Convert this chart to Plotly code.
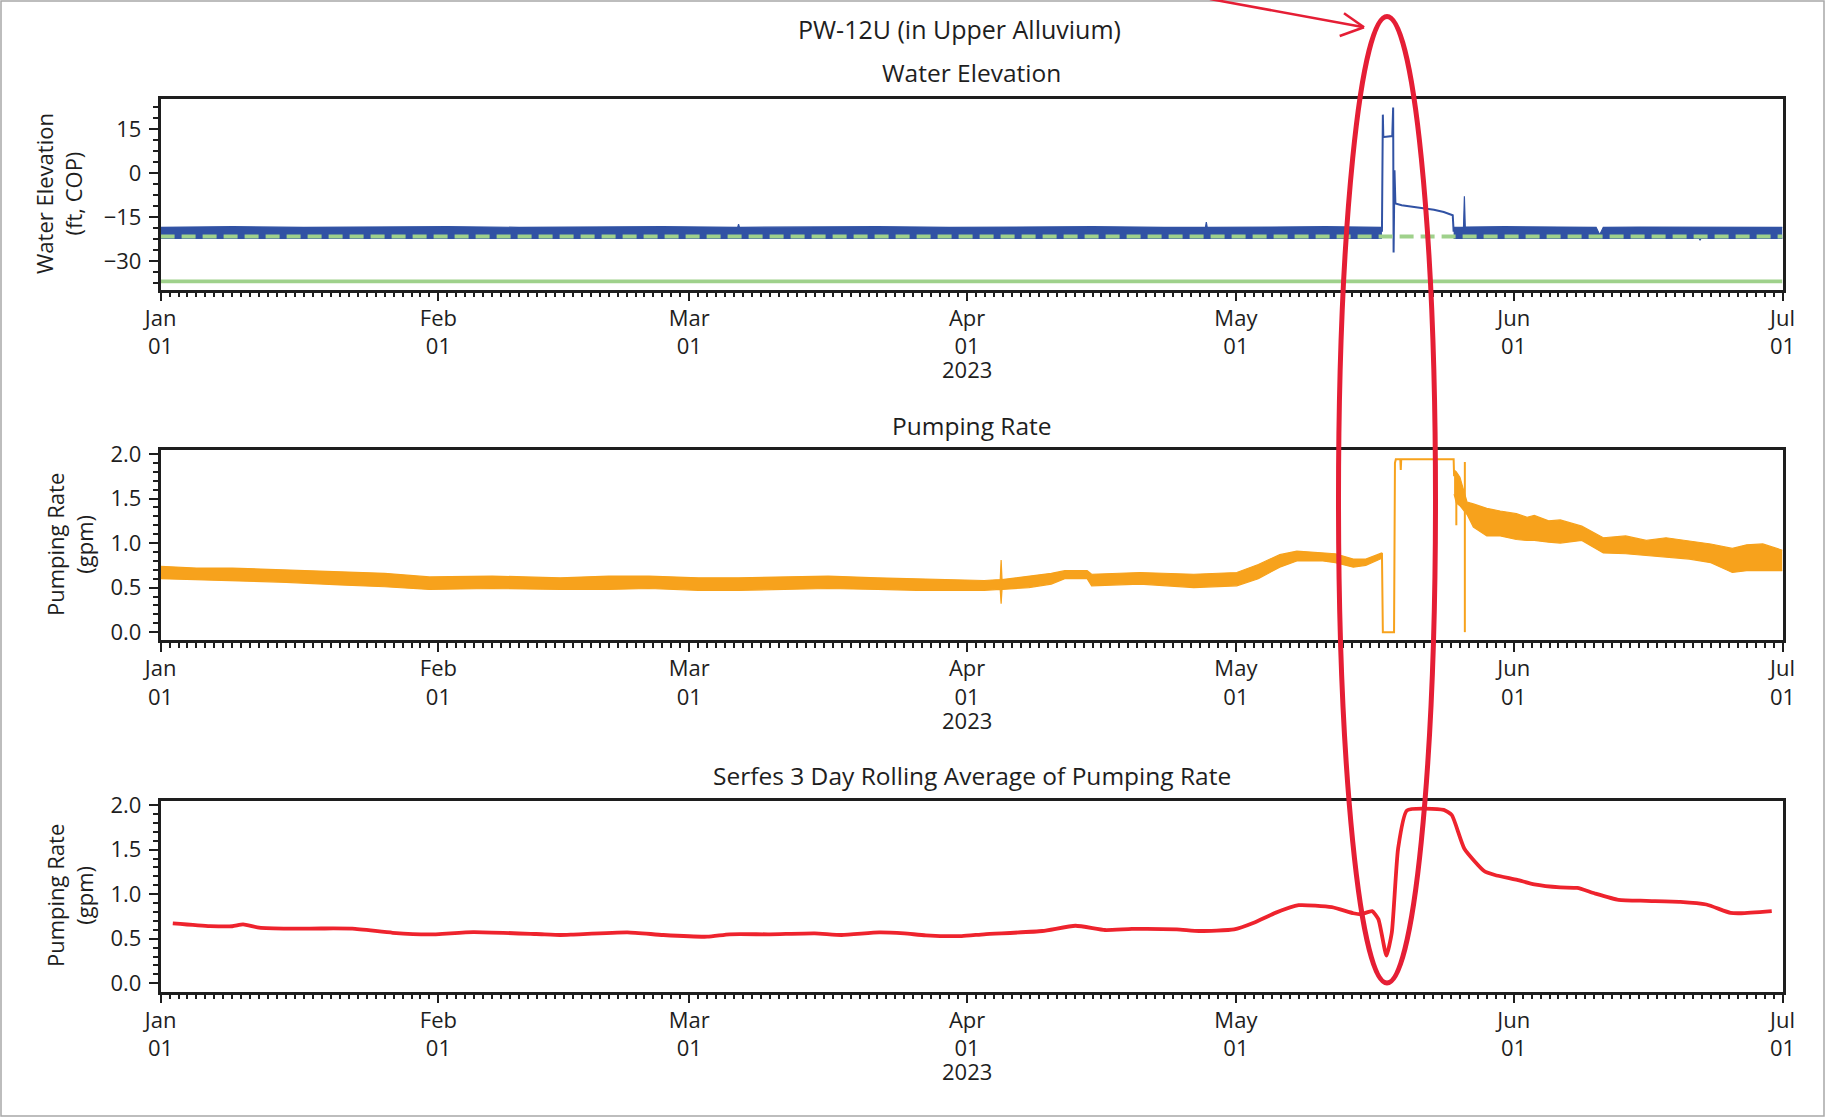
import pandas as pd
import plotly.graph_objects as go

# ---------------- data (days after 2023-01-01) ----------------
START = pd.Timestamp("2023-01-01")

# Water elevation: envelope of the dense blue record before the event
WE_PRE_DAYS = [0.0, 8.0, 16.0, 24.0, 32.0, 40.0, 48.0, 56.0, 64.4, 64.5, 64.6, 72.0, 80.0, 88.0,
               96.0, 104.0, 112.0, 116.6, 116.7, 116.8, 124.0, 130.0, 136.3]
WE_PRE_UPPER = [-18.5, -18.3, -18.5, -18.4, -18.3, -18.5, -18.4, -18.3, -18.5, -17.4, -18.5, -18.4, -18.3,
                -18.5, -18.4, -18.3, -18.5, -18.5, -16.7, -18.5, -18.4, -18.3, -18.5]
WE_PRE_LOWER = [-22.3, -22.2, -22.3, -22.3, -22.2, -22.3, -22.3, -22.2, -22.3, -22.3, -22.3, -22.3, -22.2,
                -22.3, -22.3, -22.2, -22.3, -22.3, -22.3, -22.3, -22.3, -22.2, -22.3]
# Water elevation during the test
WE_EVENT_DAYS = [136.3, 136.4, 136.45, 136.55, 137.45, 137.55, 137.6, 137.7, 137.8, 138.5, 139.8,
                 141.0, 142.1, 143.2, 144.2, 144.3]
WE_EVENT_VALUES = [-20.0, 19.9, 12.6, 12.3, 12.6, 22.3, -27.1, 0.9, -10.4, -11.0, -11.6,
                   -12.0, -12.5, -13.3, -14.4, -20.0]
# Water elevation envelope after the test
WE_POST_DAYS = [144.3, 145.4, 145.5, 145.6, 150.0, 155.0, 160.2, 160.6, 161.0, 165.0, 171.7, 171.8,
                171.9, 176.0, 181.0]
WE_POST_UPPER = [-18.5, -18.4, -7.9, -18.4, -18.3, -18.5, -18.5, -21.0, -18.5, -18.4, -18.5, -18.5,
                 -18.5, -18.4, -18.5]
WE_POST_LOWER = [-22.3, -22.3, -22.3, -22.3, -22.2, -22.3, -22.3, -22.4, -22.3, -22.3, -22.3, -22.9,
                 -22.3, -22.3, -22.3]
DASHED_LEVEL = -21.6
SOLID_LEVEL = -36.9

# Pumping rate envelope before the test
PR_PRE_DAYS = [0.0, 4.0, 8.0, 14.0, 20.0, 25.0, 30.0, 37.0, 44.6, 50.0, 54.5, 60.0, 64.5, 70.0, 74.5,
               80.0, 84.4, 91.9, 93.7, 93.8, 93.9, 96.9, 99.4, 100.9, 103.4, 103.9, 109.3, 115.3, 120.1,
               122.5, 124.9, 126.8, 129.7, 131.1, 133.1, 134.5, 136.3]
PR_PRE_UPPER = [0.74, 0.72, 0.72, 0.70, 0.68, 0.66, 0.62, 0.63, 0.61, 0.63, 0.63, 0.61, 0.61, 0.62, 0.63,
                0.61, 0.60, 0.58, 0.59, 0.81, 0.59, 0.63, 0.66, 0.69, 0.69, 0.65, 0.67, 0.65, 0.67,
                0.76, 0.87, 0.91, 0.89, 0.88, 0.82, 0.82, 0.89]
PR_PRE_LOWER = [0.60, 0.59, 0.58, 0.56, 0.53, 0.51, 0.48, 0.49, 0.48, 0.48, 0.49, 0.47, 0.47, 0.48, 0.49,
                0.48, 0.47, 0.47, 0.48, 0.32, 0.48, 0.50, 0.54, 0.60, 0.60, 0.52, 0.54, 0.50, 0.52,
                0.60, 0.73, 0.80, 0.80, 0.78, 0.73, 0.75, 0.83]
# Pumping rate during the test
PR_EVENT_DAYS = [136.3, 136.4, 137.65, 137.75, 137.85, 138.35, 138.4, 138.45, 144.3, 144.35]
PR_EVENT_VALUES = [0.89, 0.0, 0.0, 1.90, 1.94, 1.94, 1.82, 1.94, 1.94, 1.75]
# Isolated spikes (day, top, bottom)
PR_SPIKE_DAYS = [144.6, 145.55]
PR_SPIKE_TOP = [1.75, 1.91]
PR_SPIKE_BOTTOM = [1.20, 0.0]
# Pumping rate envelope after the test
PR_POST_DAYS = [144.35, 144.6, 145.0, 145.5, 145.8, 146.5, 148.0, 149.5, 151.3, 152.5, 153.3, 154.9,
                156.2, 158.6, 161.0, 163.5, 165.8, 168.0, 170.6, 173.0, 175.4, 177.0, 178.8, 181.0]
PR_POST_UPPER = [1.82, 1.80, 1.74, 1.55, 1.46, 1.44, 1.39, 1.36, 1.33, 1.29, 1.31, 1.25,
                 1.26, 1.19, 1.06, 1.08, 1.03, 1.06, 1.02, 0.99, 0.94, 0.98, 0.99, 0.92]
PR_POST_LOWER = [1.55, 1.45, 1.42, 1.36, 1.32, 1.18, 1.08, 1.08, 1.04, 1.03, 1.03, 1.01,
                 1.00, 1.03, 0.89, 0.88, 0.86, 0.84, 0.82, 0.78, 0.67, 0.69, 0.69, 0.69]

# Serfes 3-day rolling average
RA_DAYS = [1.36, 5.5, 8.0, 9.2, 11.0, 14.4, 17.9, 21.4, 25.9, 29.9, 34.9, 41.9, 44.6, 45.9, 52.1, 56.1,
           61.0, 63.5, 68.0, 73.0, 76.0, 80.2, 83.0, 85.4, 89.4, 91.9, 98.4, 102.1, 105.4, 108.4, 113.4,
           115.9, 119.8, 122.0, 124.4, 127.0, 130.7, 133.1, 134.0, 135.2, 135.9, 136.8, 137.4, 138.1,
           139.1, 143.2, 144.1, 145.5, 147.7, 148.9, 151.4, 153.3, 156.2, 158.1, 160.0, 162.7, 165.8,
           169.6, 172.5, 175.2, 176.4, 179.8]
RA_VALUES = [0.673, 0.642, 0.64, 0.661, 0.624, 0.613, 0.615, 0.613, 0.567, 0.548, 0.575, 0.553, 0.542,
             0.546, 0.572, 0.542, 0.523, 0.55, 0.55, 0.56, 0.542, 0.572, 0.56, 0.538, 0.53, 0.55, 0.587,
             0.646, 0.598, 0.61, 0.605, 0.587, 0.605, 0.68, 0.79, 0.876, 0.854, 0.786, 0.775, 0.81, 0.72,
             0.31, 0.57, 1.51, 1.94, 1.945, 1.886, 1.51, 1.26, 1.215, 1.16, 1.11, 1.076, 1.07, 1.01,
             0.936, 0.925, 0.914, 0.884, 0.79, 0.786, 0.81]

TICK_DATES = ["2023-01-01", "2023-02-01", "2023-03-01", "2023-04-01", "2023-05-01", "2023-06-01", "2023-07-01"]
TICK_TEXT = ["Jan<br>01", "Feb<br>01", "Mar<br>01", "Apr<br>01", "May<br>01", "Jun<br>01", "Jul<br>01"]
YEAR_LABEL = "2023"
YEAR_LABEL_DATE = "2023-04-01"
WE_TICKS = [-30, -15, 0, 15]
WE_TICK_TEXT = ["\u221230", "\u221215", "0", "15"]
PR_TICKS = [0.0, 0.5, 1.0, 1.5, 2.0]
PR_TICK_TEXT = ["0.0", "0.5", "1.0", "1.5", "2.0"]


def to_dates(days):
    return [START + pd.Timedelta(days=float(d)) for d in days]


# ---------------- styling ----------------
W, H = 1825, 1117
FONT = "Open Sans"
INK = "#1e1e1e"
BLUE = "#3152a4"
GREEN = "#9fd18b"
ORANGE = "#f7a21c"
RED = "#ee232d"
ELLIPSE_RED = "#e51e35"


def fx(px):
    return px / W


def fy(py):
    return 1 - py / H


fig = go.Figure()

# --- panel 1: water elevation ---
fig.add_trace(go.Scatter(x=to_dates(WE_PRE_DAYS), y=WE_PRE_LOWER, mode="lines",
                         line=dict(color=BLUE, width=1.2), xaxis="x", yaxis="y", showlegend=False))
fig.add_trace(go.Scatter(x=to_dates(WE_PRE_DAYS), y=WE_PRE_UPPER, mode="lines", fill="tonexty",
                         fillcolor=BLUE, line=dict(color=BLUE, width=1.2), xaxis="x", yaxis="y",
                         showlegend=False))
fig.add_trace(go.Scatter(x=to_dates(WE_POST_DAYS), y=WE_POST_LOWER, mode="lines",
                         line=dict(color=BLUE, width=1.2), xaxis="x", yaxis="y", showlegend=False))
fig.add_trace(go.Scatter(x=to_dates(WE_POST_DAYS), y=WE_POST_UPPER, mode="lines", fill="tonexty",
                         fillcolor=BLUE, line=dict(color=BLUE, width=1.2), xaxis="x", yaxis="y",
                         showlegend=False))
fig.add_trace(go.Scatter(x=to_dates(WE_EVENT_DAYS), y=WE_EVENT_VALUES, mode="lines",
                         line=dict(color=BLUE, width=2), xaxis="x", yaxis="y", showlegend=False))
fig.add_trace(go.Scatter(x=[START, pd.Timestamp("2023-07-01")], y=[DASHED_LEVEL, DASHED_LEVEL],
                         mode="lines", line=dict(color=GREEN, width=4, dash="14px,7px"),
                         xaxis="x", yaxis="y", showlegend=False))
fig.add_trace(go.Scatter(x=[START, pd.Timestamp("2023-07-01")], y=[SOLID_LEVEL, SOLID_LEVEL],
                         mode="lines", line=dict(color=GREEN, width=3.8),
                         xaxis="x", yaxis="y", showlegend=False))

# --- panel 2: pumping rate ---
fig.add_trace(go.Scatter(x=to_dates(PR_PRE_DAYS), y=PR_PRE_LOWER, mode="lines",
                         line=dict(color=ORANGE, width=1.2), xaxis="x2", yaxis="y2", showlegend=False))
fig.add_trace(go.Scatter(x=to_dates(PR_PRE_DAYS), y=PR_PRE_UPPER, mode="lines", fill="tonexty",
                         fillcolor=ORANGE, line=dict(color=ORANGE, width=1.2), xaxis="x2", yaxis="y2",
                         showlegend=False))
fig.add_trace(go.Scatter(x=to_dates(PR_POST_DAYS), y=PR_POST_LOWER, mode="lines",
                         line=dict(color=ORANGE, width=1.2), xaxis="x2", yaxis="y2", showlegend=False))
fig.add_trace(go.Scatter(x=to_dates(PR_POST_DAYS), y=PR_POST_UPPER, mode="lines", fill="tonexty",
                         fillcolor=ORANGE, line=dict(color=ORANGE, width=1.2), xaxis="x2", yaxis="y2",
                         showlegend=False))
fig.add_trace(go.Scatter(x=to_dates(PR_EVENT_DAYS), y=PR_EVENT_VALUES, mode="lines",
                         line=dict(color=ORANGE, width=2), xaxis="x2", yaxis="y2", showlegend=False))
spike_x, spike_y = [], []
for d, top, bot in zip(PR_SPIKE_DAYS, PR_SPIKE_TOP, PR_SPIKE_BOTTOM):
    t = START + pd.Timedelta(days=d)
    spike_x += [t, t, None]
    spike_y += [top, bot, None]
fig.add_trace(go.Scatter(x=spike_x, y=spike_y, mode="lines", line=dict(color=ORANGE, width=2),
                         xaxis="x2", yaxis="y2", showlegend=False, connectgaps=False))

# --- panel 3: rolling average ---
fig.add_trace(go.Scatter(x=to_dates(RA_DAYS), y=RA_VALUES, mode="lines",
                         line=dict(color=RED, width=3.8, shape="spline", smoothing=0.5),
                         xaxis="x3", yaxis="y3", showlegend=False))

# ---------------- axes ----------------
XDOM = [fx(160.6), fx(1782.5)]
panels = {  # (top px, bottom px)
    1: (98.5, 289.5),
    2: (450.0, 640.0),
    3: (801.0, 991.7),
}


def xaxis_style(anchor):
    return dict(
        type="date", range=["2023-01-01", "2023-07-01"], domain=XDOM, anchor=anchor,
        tickmode="array", tickvals=TICK_DATES, ticktext=TICK_TEXT,
        ticks="outside", ticklen=9, tickwidth=2, tickcolor=INK,
        showline=True, linecolor=INK, linewidth=2.5, mirror=True,
        showgrid=False, zeroline=False, automargin=False, ticklabelstandoff=-2,
        tickfont=dict(family=FONT, size=22, color=INK),
        minor=dict(ticks="outside", ticklen=5, tickwidth=1.5, tickcolor=INK,
                   tickmode="linear", tick0="2023-01-01", dtick=86400000, showgrid=False),
    )


def yaxis_style(anchor, top, bottom, rng, tv, tt, minor_dtick):
    return dict(
        domain=[fy(bottom), fy(top)], anchor=anchor, range=rng,
        tickmode="array", tickvals=tv, ticktext=tt,
        ticks="outside", ticklen=9, tickwidth=2, tickcolor=INK,
        showline=True, linecolor=INK, linewidth=2.5, mirror=True,
        showgrid=False, zeroline=False, automargin=False, ticklabelstandoff=3,
        tickfont=dict(family=FONT, size=22, color=INK),
        minor=dict(ticks="outside", ticklen=5, tickwidth=1.5, tickcolor=INK,
                   tickmode="linear", tick0=0, dtick=minor_dtick, showgrid=False),
    )


fig.update_layout(
    width=W, height=H,
    margin=dict(l=0, r=0, t=0, b=0),
    paper_bgcolor="white", plot_bgcolor="white",
    font=dict(family=FONT, size=22, color=INK),
    showlegend=False,
    xaxis=xaxis_style("y"),
    xaxis2=xaxis_style("y2"),
    xaxis3=xaxis_style("y3"),
    yaxis=yaxis_style("x", *panels[1], [-39.7, 25.4], WE_TICKS, WE_TICK_TEXT, 3.75),
    yaxis2=yaxis_style("x2", *panels[2], [-0.088, 2.045], PR_TICKS, PR_TICK_TEXT, 0.1),
    yaxis3=yaxis_style("x3", *panels[3], [-0.094, 2.045], PR_TICKS, PR_TICK_TEXT, 0.1),
)

# ---------------- text ----------------
ann = []
ann.append(dict(text="PW-12U (in Upper Alluvium)", x=fx(960), y=fy(29), xref="paper", yref="paper",
                showarrow=False, xanchor="center", yanchor="middle", font=dict(size=25)))
for title, ypx in [("Water Elevation", 73), ("Pumping Rate", 425),
                   ("Serfes 3 Day Rolling Average of Pumping Rate", 776)]:
    ann.append(dict(text=title, x=fx(971.5), y=fy(ypx), xref="paper", yref="paper", showarrow=False,
                    xanchor="center", yanchor="middle", font=dict(size=24.5)))
for title, xpx, ypx in [("Water Elevation<br>(ft, COP)", 58, 194),
                        ("Pumping Rate<br>(gpm)", 69, 545),
                        ("Pumping Rate<br>(gpm)", 69, 896)]:
    ann.append(dict(text=title, x=fx(xpx), y=fy(ypx), xref="paper", yref="paper", showarrow=False,
                    xanchor="center", yanchor="middle", textangle=-90, font=dict(size=22)))
for xr, ypx in [("x", 369), ("x2", 720), ("x3", 1070.5)]:
    ann.append(dict(text=YEAR_LABEL, x=YEAR_LABEL_DATE, y=fy(ypx), xref=xr, yref="paper",
                    showarrow=False, xanchor="center", yanchor="middle", font=dict(size=22)))
fig.update_layout(annotations=ann)

# ---------------- annotation shapes (red ellipse + arrow, page border) ----------------
shapes = [
    dict(type="rect", xref="paper", yref="paper", x0=fx(1), x1=fx(1824), y0=fy(1116), y1=fy(1),
         line=dict(color="#a8a8a8", width=1.5), fillcolor="rgba(0,0,0,0)", layer="below"),
    dict(type="circle", xref="paper", yref="paper", x0=fx(1338.5), x1=fx(1435.5), y0=fy(983), y1=fy(16.5),
         line=dict(color=ELLIPSE_RED, width=5)),
    dict(type="line", xref="paper", yref="paper", x0=fx(1210), y0=fy(-1), x1=fx(1364), y1=fy(27.3),
         line=dict(color=ELLIPSE_RED, width=2.5)),
    dict(type="line", xref="paper", yref="paper", x0=fx(1344), y0=fy(13.3), x1=fx(1364), y1=fy(27.3),
         line=dict(color=ELLIPSE_RED, width=2.5)),
    dict(type="line", xref="paper", yref="paper", x0=fx(1339.7), y0=fy(36), x1=fx(1364), y1=fy(27.3),
         line=dict(color=ELLIPSE_RED, width=2.5)),
]
fig.update_layout(shapes=shapes)

fig.write_html("out.html", config={"displayModeBar": False},
               post_script="document.body.style.margin='0px';")
